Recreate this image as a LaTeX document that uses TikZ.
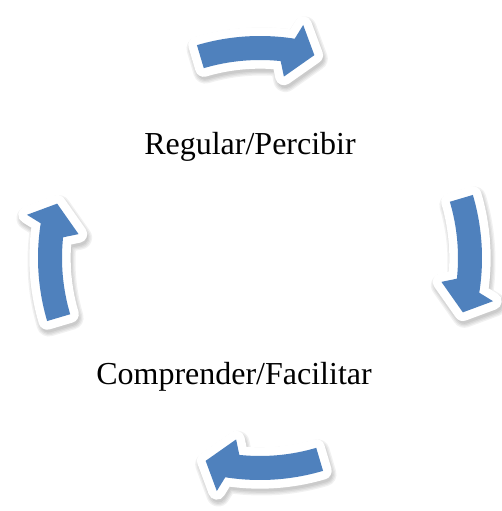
\documentclass[tikz,border=0pt]{standalone}
\usepackage{fontspec}
\setmainfont{Liberation Serif}
\definecolor{cycleblue}{RGB}{79,129,189}
\def\arrowshape{(106.5:222) arc[start angle=106.5, end angle=81, radius=222] -- (79.5:237) -- (75:210) -- (82.5:183) -- (84:198) arc[start angle=84, end angle=106.5, radius=198] -- cycle}
\def\cyclearrow(#1){%
  \begin{scope}[shift={(261.5,249.5)}, rotate=#1]
    \foreach \w in {12,14,16,18} \filldraw[black, opacity=0.055, line width=\w pt, line join=round] \arrowshape;
  \end{scope}
  \begin{scope}[shift={(260,253)}, rotate=#1]
    \filldraw[white, line width=13pt, line join=round] \arrowshape;
    \fill[cycleblue] \arrowshape;
  \end{scope}}

\begin{document}
\begin{tikzpicture}[x=0.75pt, y=0.75pt]
		%%%%% START %%%%%
		\useasboundingbox (0,0) rectangle (501,511);
		
		\cyclearrow(0)
		\cyclearrow(-90)
		\cyclearrow(-180)
		\cyclearrow(-270)
		
		\node[font=\fontsize{24}{28}\selectfont, anchor=base, inner sep=0pt] (regular) at (250,356) {Regular/Percibir};
		\node[font=\fontsize{24}{28}\selectfont, anchor=base, inner sep=0pt] (comprender) at (234,126) {Comprender/Facilitar};
		
		%%%%% END %%%%%
	\end{tikzpicture}
\end{document}
